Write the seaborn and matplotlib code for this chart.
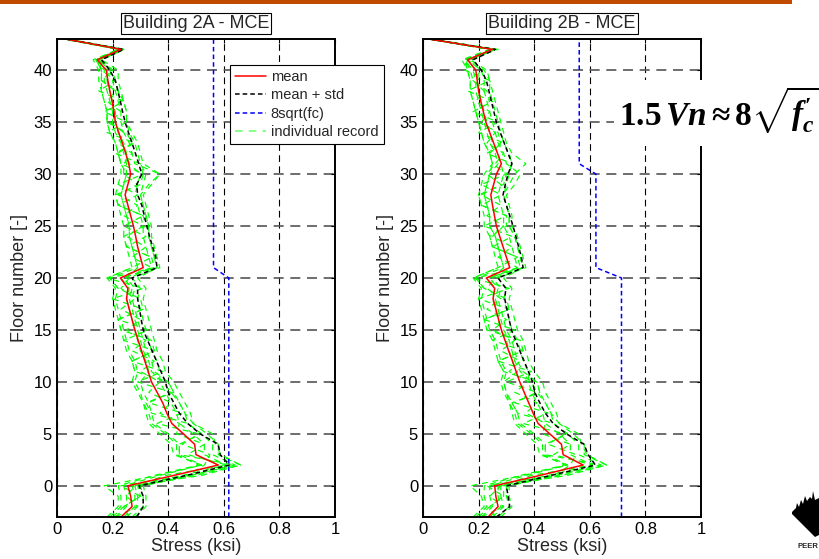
import numpy as np
import pandas as pd
import matplotlib
matplotlib.use("Agg")
import matplotlib.pyplot as plt
import seaborn as sns
from matplotlib.lines import Line2D
from matplotlib.patches import Rectangle, Polygon

# ---------------- data (floors -3 .. 43) ----------------
floors = list(range(-3, 44))

mean_2a = [0.230, 0.270, 0.265, 0.255, 0.420, 0.580, 0.500, 0.495, 0.455, 0.413, 0.395, 0.380, 0.360, 0.340,
           0.328, 0.316, 0.304, 0.292, 0.280, 0.270, 0.260, 0.250, 0.255, 0.228,
           0.310, 0.300, 0.290, 0.283, 0.275, 0.265, 0.255, 0.245, 0.255, 0.265,
           0.258, 0.247, 0.235, 0.222, 0.210, 0.205, 0.198, 0.190, 0.183, 0.177,
           0.145, 0.230, 0.030]
mstd_2a = [0.287, 0.310, 0.310, 0.295, 0.465, 0.620, 0.587, 0.580, 0.515, 0.470, 0.440, 0.420, 0.400, 0.390,
           0.374, 0.358, 0.342, 0.326, 0.310, 0.303, 0.297, 0.290, 0.290, 0.270,
           0.360, 0.355, 0.344, 0.333, 0.323, 0.314, 0.305, 0.290, 0.287, 0.305,
           0.294, 0.282, 0.270, 0.257, 0.245, 0.236, 0.228, 0.219, 0.210, 0.190,
           0.160, 0.240, 0.030]
fc_2a = [0.618, 0.618, 0.618, 0.618, 0.618, 0.618, 0.618, 0.618, 0.618, 0.618, 0.618, 0.618, 0.618, 0.618,
         0.618, 0.618, 0.618, 0.618, 0.618, 0.618, 0.618, 0.618, 0.618, 0.618,
         0.563, 0.563, 0.563, 0.563, 0.563, 0.563, 0.563, 0.563, 0.563, 0.563,
         0.563, 0.563, 0.563, 0.563, 0.563, 0.563, 0.563, 0.563, 0.563, 0.563,
         0.563, 0.563, 0.563]

mean_2b = [0.234, 0.270, 0.262, 0.258, 0.420, 0.576, 0.504, 0.498, 0.456, 0.414, 0.396, 0.380, 0.364, 0.348,
           0.335, 0.322, 0.308, 0.295, 0.282, 0.272, 0.262, 0.252, 0.258, 0.228,
           0.312, 0.300, 0.288, 0.276, 0.264, 0.257, 0.250, 0.244, 0.254, 0.264,
           0.282, 0.268, 0.254, 0.240, 0.226, 0.217, 0.208, 0.200, 0.195, 0.190,
           0.160, 0.250, 0.020]
mstd_2b = [0.264, 0.312, 0.306, 0.300, 0.460, 0.620, 0.594, 0.579, 0.516, 0.468, 0.440, 0.420, 0.402, 0.394,
           0.379, 0.364, 0.348, 0.333, 0.318, 0.310, 0.302, 0.294, 0.298, 0.270,
           0.360, 0.354, 0.344, 0.334, 0.324, 0.312, 0.300, 0.288, 0.296, 0.306,
           0.320, 0.306, 0.292, 0.278, 0.264, 0.255, 0.246, 0.237, 0.228, 0.210,
           0.180, 0.260, 0.020]
fc_2b = [0.714, 0.714, 0.714, 0.714, 0.714, 0.714, 0.714, 0.714, 0.714, 0.714, 0.714, 0.714, 0.714, 0.714,
         0.714, 0.714, 0.714, 0.714, 0.714, 0.714, 0.714, 0.714, 0.714, 0.714,
         0.622, 0.622, 0.622, 0.622, 0.622, 0.622, 0.622, 0.622, 0.622, 0.622,
         0.562, 0.562, 0.562, 0.562, 0.562, 0.562, 0.562, 0.562, 0.562, 0.562,
         0.562, 0.562, 0.562]

# individual records, building 2A
rec_2a_01 = [0.27, 0.31, 0.31, 0.30, 0.50, 0.66, 0.58, 0.58, 0.54, 0.49, 0.48, 0.46, 0.44, 0.42,
             0.39, 0.38, 0.36, 0.35, 0.34, 0.33, 0.32, 0.31, 0.32, 0.29, 0.36, 0.35, 0.34, 0.33, 0.33, 0.32, 0.31, 0.30, 0.31, 0.32,
             0.30, 0.29, 0.28, 0.26, 0.25, 0.25, 0.24, 0.23, 0.22, 0.22, 0.16, 0.24, 0.04]
rec_2a_02 = [0.19, 0.23, 0.23, 0.22, 0.35, 0.51, 0.43, 0.43, 0.39, 0.34, 0.33, 0.31, 0.29, 0.27,
             0.28, 0.27, 0.25, 0.24, 0.23, 0.22, 0.21, 0.20, 0.21, 0.18, 0.27, 0.26, 0.25, 0.24, 0.24, 0.23, 0.22, 0.21, 0.22, 0.23,
             0.23, 0.22, 0.21, 0.19, 0.18, 0.18, 0.17, 0.16, 0.15, 0.15, 0.13, 0.22, 0.02]
rec_2a_03 = [0.26, 0.24, 0.30, 0.23, 0.47, 0.53, 0.55, 0.45, 0.51, 0.36, 0.45, 0.33, 0.41, 0.29,
             0.38, 0.27, 0.35, 0.24, 0.33, 0.22, 0.31, 0.20, 0.31, 0.18, 0.27, 0.34, 0.25, 0.32, 0.24, 0.31, 0.22, 0.29, 0.22, 0.31,
             0.30, 0.21, 0.28, 0.18, 0.25, 0.17, 0.24, 0.15, 0.21, 0.16, 0.15, 0.23, 0.03]
rec_2a_04 = [0.28, 0.32, 0.32, 0.31, 0.48, 0.64, 0.56, 0.56, 0.52, 0.47, 0.46, 0.44, 0.42, 0.40,
             0.35, 0.34, 0.32, 0.31, 0.30, 0.29, 0.28, 0.27, 0.28, 0.25, 0.29, 0.28, 0.27, 0.26, 0.26, 0.25, 0.24, 0.23, 0.24, 0.25,
             0.23, 0.22, 0.21, 0.19, 0.18, 0.18, 0.17, 0.16, 0.16, 0.16, 0.14, 0.23, 0.03]
rec_2a_05 = [0.18, 0.22, 0.22, 0.17, 0.36, 0.52, 0.44, 0.44, 0.40, 0.35, 0.34, 0.33, 0.31, 0.30,
             0.33, 0.32, 0.30, 0.29, 0.28, 0.27, 0.26, 0.25, 0.26, 0.23, 0.36, 0.35, 0.34, 0.33, 0.33, 0.32, 0.31, 0.30, 0.33, 0.37,
             0.31, 0.30, 0.29, 0.27, 0.25, 0.25, 0.24, 0.22, 0.21, 0.20, 0.16, 0.24, 0.03]
rec_2a_06 = [0.24, 0.28, 0.28, 0.27, 0.52, 0.66, 0.59, 0.57, 0.56, 0.49, 0.46, 0.44, 0.41, 0.38,
             0.34, 0.33, 0.31, 0.30, 0.29, 0.28, 0.27, 0.26, 0.27, 0.24, 0.34, 0.33, 0.32, 0.31, 0.31, 0.30, 0.29, 0.28, 0.29, 0.30,
             0.26, 0.25, 0.24, 0.22, 0.21, 0.21, 0.20, 0.19, 0.18, 0.18, 0.15, 0.23, 0.03]
rec_2a_07 = [0.21, 0.29, 0.25, 0.28, 0.39, 0.61, 0.47, 0.53, 0.43, 0.44, 0.37, 0.41, 0.33, 0.37,
             0.30, 0.35, 0.27, 0.32, 0.25, 0.30, 0.23, 0.28, 0.23, 0.26, 0.34, 0.27, 0.32, 0.25, 0.31, 0.24, 0.29, 0.22, 0.29, 0.24,
             0.24, 0.27, 0.22, 0.24, 0.19, 0.23, 0.18, 0.21, 0.16, 0.20, 0.15, 0.23, 0.03]
rec_2a_08 = [0.21, 0.25, 0.25, 0.24, 0.37, 0.52, 0.42, 0.41, 0.37, 0.33, 0.32, 0.31, 0.30, 0.28,
             0.29, 0.28, 0.26, 0.25, 0.24, 0.23, 0.22, 0.21, 0.22, 0.19, 0.29, 0.28, 0.27, 0.26, 0.26, 0.25, 0.24, 0.23, 0.24, 0.25,
             0.25, 0.24, 0.23, 0.21, 0.20, 0.20, 0.19, 0.18, 0.17, 0.17, 0.14, 0.23, 0.03]
rec_2a_09 = [0.25, 0.29, 0.29, 0.28, 0.45, 0.61, 0.53, 0.53, 0.49, 0.44, 0.43, 0.41, 0.39, 0.37,
             0.37, 0.36, 0.34, 0.33, 0.32, 0.31, 0.30, 0.29, 0.30, 0.27, 0.37, 0.36, 0.35, 0.34, 0.34, 0.33, 0.32, 0.31, 0.34, 0.37,
             0.28, 0.27, 0.26, 0.24, 0.23, 0.23, 0.22, 0.21, 0.20, 0.19, 0.15, 0.24, 0.03]
rec_2a_10 = [0.20, 0.24, 0.30, 0.29, 0.48, 0.64, 0.44, 0.44, 0.52, 0.47, 0.34, 0.32, 0.42, 0.40,
             0.28, 0.27, 0.35, 0.34, 0.23, 0.22, 0.31, 0.30, 0.22, 0.19, 0.35, 0.34, 0.25, 0.24, 0.32, 0.31, 0.22, 0.21, 0.30, 0.31,
             0.23, 0.22, 0.27, 0.25, 0.18, 0.18, 0.23, 0.22, 0.16, 0.16, 0.14, 0.22, 0.03]

# individual records, building 2B
rec_2b_01 = [0.19, 0.23, 0.22, 0.22, 0.35, 0.51, 0.43, 0.43, 0.39, 0.34, 0.33, 0.31, 0.29, 0.28,
             0.29, 0.27, 0.26, 0.25, 0.23, 0.22, 0.21, 0.20, 0.21, 0.18, 0.27, 0.26, 0.25, 0.24, 0.22, 0.22, 0.21, 0.20, 0.21, 0.22,
             0.25, 0.24, 0.22, 0.21, 0.20, 0.19, 0.18, 0.17, 0.17, 0.16, 0.14, 0.24, 0.02]
rec_2b_02 = [0.27, 0.31, 0.30, 0.30, 0.50, 0.66, 0.58, 0.58, 0.54, 0.49, 0.48, 0.46, 0.44, 0.43,
             0.40, 0.38, 0.37, 0.36, 0.34, 0.33, 0.32, 0.31, 0.32, 0.29, 0.36, 0.35, 0.34, 0.33, 0.31, 0.31, 0.30, 0.29, 0.30, 0.31,
             0.32, 0.31, 0.29, 0.28, 0.27, 0.26, 0.25, 0.24, 0.24, 0.23, 0.17, 0.26, 0.03]
rec_2b_03 = [0.21, 0.29, 0.24, 0.28, 0.39, 0.61, 0.47, 0.53, 0.43, 0.44, 0.37, 0.41, 0.33, 0.38,
             0.31, 0.35, 0.28, 0.33, 0.25, 0.30, 0.23, 0.28, 0.23, 0.26, 0.34, 0.27, 0.32, 0.25, 0.29, 0.23, 0.28, 0.21, 0.28, 0.23,
             0.26, 0.29, 0.23, 0.26, 0.21, 0.24, 0.19, 0.22, 0.18, 0.21, 0.16, 0.25, 0.02]
rec_2b_04 = [0.26, 0.24, 0.29, 0.23, 0.47, 0.53, 0.55, 0.45, 0.51, 0.36, 0.45, 0.33, 0.41, 0.30,
             0.39, 0.27, 0.36, 0.25, 0.33, 0.22, 0.31, 0.20, 0.31, 0.18, 0.27, 0.34, 0.25, 0.32, 0.22, 0.30, 0.21, 0.28, 0.21, 0.30,
             0.32, 0.23, 0.29, 0.20, 0.27, 0.18, 0.25, 0.16, 0.24, 0.15, 0.16, 0.25, 0.02]
rec_2b_05 = [0.18, 0.22, 0.21, 0.17, 0.36, 0.52, 0.44, 0.44, 0.40, 0.35, 0.34, 0.32, 0.30, 0.29,
             0.34, 0.32, 0.31, 0.30, 0.28, 0.27, 0.26, 0.25, 0.26, 0.23, 0.36, 0.35, 0.34, 0.33, 0.31, 0.31, 0.30, 0.29, 0.31, 0.33,
             0.37, 0.32, 0.30, 0.29, 0.28, 0.27, 0.26, 0.25, 0.24, 0.22, 0.17, 0.26, 0.02]
rec_2b_06 = [0.24, 0.28, 0.27, 0.27, 0.52, 0.66, 0.59, 0.57, 0.56, 0.49, 0.46, 0.44, 0.41, 0.39,
             0.35, 0.33, 0.32, 0.31, 0.29, 0.28, 0.27, 0.26, 0.27, 0.24, 0.34, 0.33, 0.32, 0.31, 0.29, 0.29, 0.28, 0.27, 0.28, 0.29,
             0.28, 0.27, 0.25, 0.24, 0.23, 0.22, 0.21, 0.20, 0.20, 0.19, 0.16, 0.25, 0.02]
rec_2b_07 = [0.28, 0.32, 0.31, 0.31, 0.48, 0.64, 0.56, 0.56, 0.52, 0.47, 0.46, 0.44, 0.42, 0.41,
             0.36, 0.34, 0.33, 0.32, 0.30, 0.29, 0.28, 0.27, 0.28, 0.25, 0.29, 0.28, 0.27, 0.26, 0.24, 0.24, 0.23, 0.22, 0.23, 0.24,
             0.25, 0.24, 0.22, 0.21, 0.20, 0.19, 0.18, 0.17, 0.17, 0.16, 0.15, 0.24, 0.02]
rec_2b_08 = [0.20, 0.24, 0.29, 0.29, 0.48, 0.64, 0.44, 0.44, 0.52, 0.47, 0.34, 0.32, 0.42, 0.41,
             0.29, 0.27, 0.36, 0.35, 0.23, 0.22, 0.31, 0.30, 0.22, 0.19, 0.35, 0.34, 0.25, 0.24, 0.30, 0.30, 0.21, 0.20, 0.29, 0.30,
             0.25, 0.24, 0.28, 0.27, 0.20, 0.19, 0.24, 0.23, 0.18, 0.17, 0.15, 0.24, 0.02]
rec_2b_09 = [0.21, 0.25, 0.24, 0.24, 0.37, 0.52, 0.42, 0.41, 0.37, 0.33, 0.32, 0.31, 0.30, 0.29,
             0.30, 0.28, 0.27, 0.26, 0.24, 0.23, 0.22, 0.21, 0.22, 0.19, 0.29, 0.28, 0.27, 0.26, 0.24, 0.24, 0.23, 0.22, 0.23, 0.24,
             0.27, 0.26, 0.24, 0.23, 0.22, 0.21, 0.20, 0.19, 0.19, 0.18, 0.15, 0.24, 0.02]
rec_2b_10 = [0.25, 0.29, 0.28, 0.28, 0.45, 0.61, 0.53, 0.53, 0.49, 0.44, 0.43, 0.41, 0.39, 0.38,
             0.38, 0.36, 0.35, 0.34, 0.32, 0.31, 0.30, 0.29, 0.30, 0.27, 0.37, 0.36, 0.35, 0.34, 0.32, 0.32, 0.31, 0.30, 0.33, 0.35,
             0.30, 0.29, 0.27, 0.26, 0.25, 0.24, 0.23, 0.22, 0.22, 0.21, 0.16, 0.27, 0.02]

titles = ["Building 2A - MCE", "Building 2B - MCE"]
legend_labels = ["mean", "mean + std", "8sqrt(fc)", "individual record"]
x_ticks = [0, 0.2, 0.4, 0.6, 0.8, 1]
x_tick_labels = ["0", "0.2", "0.4", "0.6", "0.8", "1"]
y_ticks = [0, 5, 10, 15, 20, 25, 30, 35, 40]

records_2a = [rec_2a_01, rec_2a_02, rec_2a_03, rec_2a_04, rec_2a_05,
              rec_2a_06, rec_2a_07, rec_2a_08, rec_2a_09, rec_2a_10]
records_2b = [rec_2b_01, rec_2b_02, rec_2b_03, rec_2b_04, rec_2b_05,
              rec_2b_06, rec_2b_07, rec_2b_08, rec_2b_09, rec_2b_10]

# ---------------- style ----------------
sns.set_style("white")
plt.rcParams["font.family"] = ["Liberation Sans", "DejaVu Sans"]
plt.rcParams["mathtext.fontset"] = "custom"
plt.rcParams["mathtext.rm"] = "Liberation Serif:bold"
plt.rcParams["mathtext.it"] = "Liberation Serif:italic:bold"
plt.rcParams["mathtext.bf"] = "Liberation Serif:bold"

W, H = 819, 559
fig = plt.figure(figsize=(W / 100, H / 100), dpi=100)
fig.patch.set_facecolor("white")

GREEN = "#00ff00"
rec_ls = (0, (5, 4))
short_ls = (0, (3, 2))


def draw_panel(ax, mean, mstd, fc, recs, title):
    n = len(floors)
    df_rec = pd.DataFrame({
        "stress": np.concatenate([np.asarray(r, float) for r in recs]),
        "floor": floors * len(recs),
        "record": np.repeat(np.arange(len(recs)), n),
    })
    sns.lineplot(data=df_rec, x="stress", y="floor", units="record", estimator=None,
                 sort=False, color=GREEN, lw=0.85, linestyle=rec_ls, ax=ax, legend=False)
    df = pd.DataFrame({"floor": floors, "mean": mean, "mstd": mstd, "fc": fc})
    sns.lineplot(data=df, x="mstd", y="floor", sort=False, estimator=None,
                 color="black", lw=1.1, linestyle=short_ls, ax=ax)
    sns.lineplot(data=df, x="mean", y="floor", sort=False, estimator=None,
                 color="red", lw=1.1, ax=ax)
    sns.lineplot(data=df, x="fc", y="floor", sort=False, estimator=None,
                 color="blue", lw=1.1, linestyle=short_ls, ax=ax)

    ax.set_xlim(0, 1)
    ax.set_ylim(-3, 43)
    ax.set_xticks(x_ticks)
    ax.set_xticklabels(x_tick_labels)
    ax.set_yticks(y_ticks)
    ax.set_axisbelow(True)
    ax.grid(axis="x", color="black", lw=0.8, linestyle=(0, (6, 4)))
    ax.grid(axis="y", color="#555555", lw=1.2, linestyle=(0, (6, 4)))
    ax.tick_params(direction="in", length=3, width=0.8, top=True, right=True,
                   labelsize=12, pad=3.5, colors="black")
    for s in ax.spines.values():
        s.set_color("black")
        s.set_linewidth(1.4)
    ax.set_xlabel("Stress (ksi)", fontsize=13, labelpad=1)
    ax.set_ylabel("Floor number [-]", fontsize=13, labelpad=4)
    ax.set_title(title, fontsize=13, pad=8,
                 bbox=dict(facecolor="white", edgecolor="black", lw=0.8,
                           boxstyle="square,pad=0.12"))


ax1 = fig.add_axes([57 / W, 1 - 517 / H, 278 / W, 478 / H])
ax2 = fig.add_axes([423 / W, 1 - 517 / H, 278 / W, 478 / H])
draw_panel(ax1, mean_2a, mstd_2a, fc_2a, records_2a, titles[0])
draw_panel(ax2, mean_2b, mstd_2b, fc_2b, records_2b, titles[1])

handles = [
    Line2D([], [], color="red", lw=1.1),
    Line2D([], [], color="black", lw=1.1, linestyle=short_ls),
    Line2D([], [], color="blue", lw=1.1, linestyle=short_ls),
    Line2D([], [], color="#66ff66", lw=1.1, linestyle=rec_ls),
]
leg = ax1.legend(handles, legend_labels, loc="upper left",
                 bbox_to_anchor=(230 / W, 1 - 65 / H), bbox_transform=fig.transFigure,
                 fontsize=10.5, frameon=True, fancybox=False, framealpha=1,
                 edgecolor="black", handlelength=2.1, handletextpad=0.35,
                 borderpad=0.35, labelspacing=0.3, borderaxespad=0)
leg.get_frame().set_linewidth(0.8)
leg.set_zorder(20)

# equation panel
fig.add_artist(Rectangle((614 / W, 1 - 146 / H), (W - 614) / W, 66 / H,
                         transform=fig.transFigure, facecolor="white",
                         edgecolor="none", zorder=10))
fig.text(619 / W, 1 - 125 / H, r"$1.5\,Vn\approx8\sqrt{f^{\prime}_{c}}$",
         fontsize=24, ha="left", va="baseline", zorder=11, color="black")

# top banner
fig.add_artist(Rectangle((0, 1 - 3.5 / H), 792 / W, 3.5 / H, transform=fig.transFigure,
                         facecolor="#c04a00", edgecolor="none", zorder=10))

# small logo at bottom right
logo_px = [(792, 512), (796, 508), (797, 503), (799, 507), (801, 500), (803, 504),
           (805, 496), (807, 501), (810, 497), (812, 499), (813, 491), (815, 500),
           (819, 498), (819, 535), (815, 537), (792, 514)]
fig.add_artist(Polygon([(x / W, 1 - y / H) for x, y in logo_px], closed=True,
                       transform=fig.transFigure, facecolor="black", edgecolor="none"))
fig.text(797 / W, 1 - 548 / H, "PEER", fontsize=5.5, fontweight="bold", ha="left", va="baseline")

fig.savefig("out.png", dpi=100, facecolor="white")
